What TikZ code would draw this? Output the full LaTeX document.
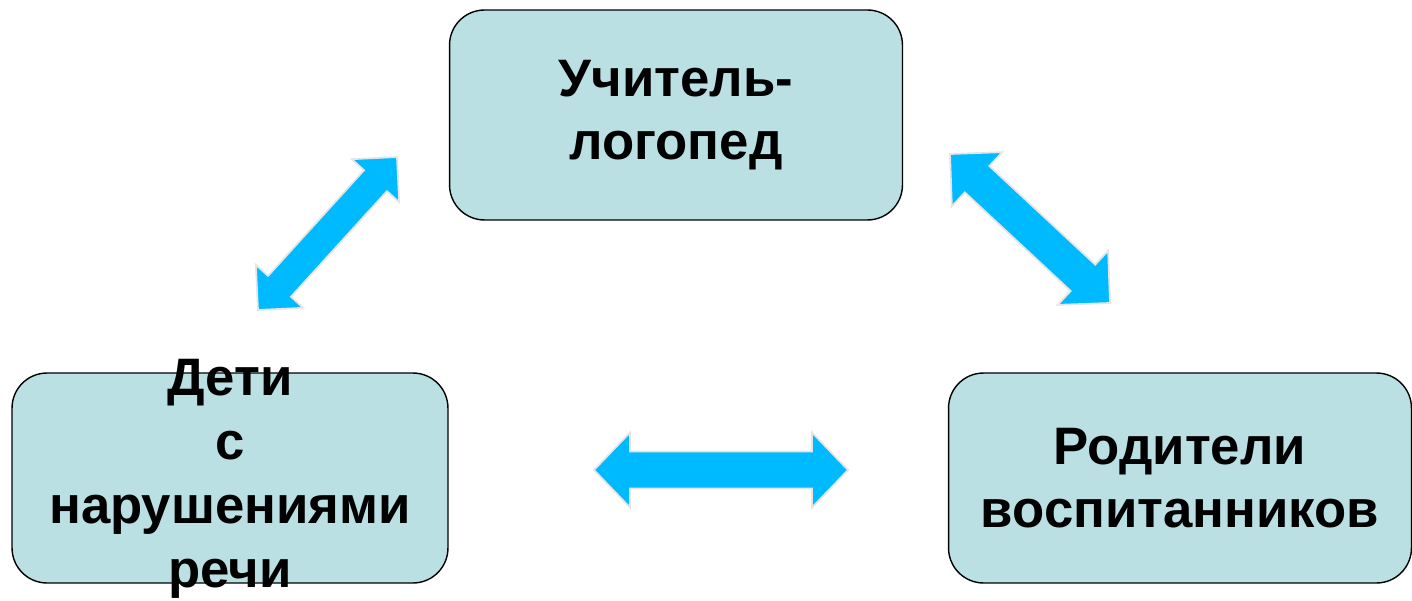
\documentclass[tikz,border=0pt]{standalone}
\usepackage{fontspec}
\setmainfont{Liberation Sans}
\usetikzlibrary{calc}
\definecolor{boxfill}{HTML}{BAE0E3}
\definecolor{linkblue}{HTML}{00BAFF}
\begin{document}
\begin{tikzpicture}[x=0.02cm,y=-0.02cm,
	box text/.style={align=center,font=\fontsize{30}{36}\selectfont\bfseries},
	main node/.style={draw,rounded corners=0.7cm,fill=boxfill,line width=0.8pt,minimum height=4.2cm,inner sep=0pt,box text},
	link/.style={fill=linkblue,draw=black!10,line width=1pt,line join=miter}]

	\useasboundingbox (0,0) rectangle (1412,601);

	\node[main node,minimum width=9.06cm] (teacher) at (676,115) {Учитель-\\логопед};
	\node[main node,minimum width=8.72cm,label={[box text,font=\fontsize{30}{36.5}\selectfont\bfseries,yshift=-0.02cm]center:Дети\\с\\нарушениями\\речи}] (children) at (230,478) {};
	\node[main node,minimum width=9.26cm] (parents) at (1180,478) {Родители\\воспитанников};

	% arrow tips
	\coordinate (tc) at (397,157);
	\coordinate (ct) at (258,310);
	\coordinate (tp) at (950,154);
	\coordinate (pt) at (1110,303);
	\coordinate (cp) at (594,470);
	\coordinate (pc) at (848,470);

	% double arrows: start/end/half shaft/half head/head length
	\foreach \a/\b/\s/\h/\l in {ct/tc/0.31/0.64/0.64, tp/pt/0.36/0.74/0.74, cp/pc/0.37/0.75/0.72}
		\draw[link] (\a)
			-- ($(\a)!\l cm!(\b)!\h cm!90:(\b)$)
			-- ($(\a)!\l cm!(\b)!\s cm!90:(\b)$)
			-- ($(\b)!\l cm!(\a)!\s cm!-90:(\a)$)
			-- ($(\b)!\l cm!(\a)!\h cm!-90:(\a)$)
			-- (\b)
			-- ($(\b)!\l cm!(\a)!\h cm!90:(\a)$)
			-- ($(\b)!\l cm!(\a)!\s cm!90:(\a)$)
			-- ($(\a)!\l cm!(\b)!\s cm!-90:(\b)$)
			-- ($(\a)!\l cm!(\b)!\h cm!-90:(\b)$)
			-- cycle;

\end{tikzpicture}
\end{document}
